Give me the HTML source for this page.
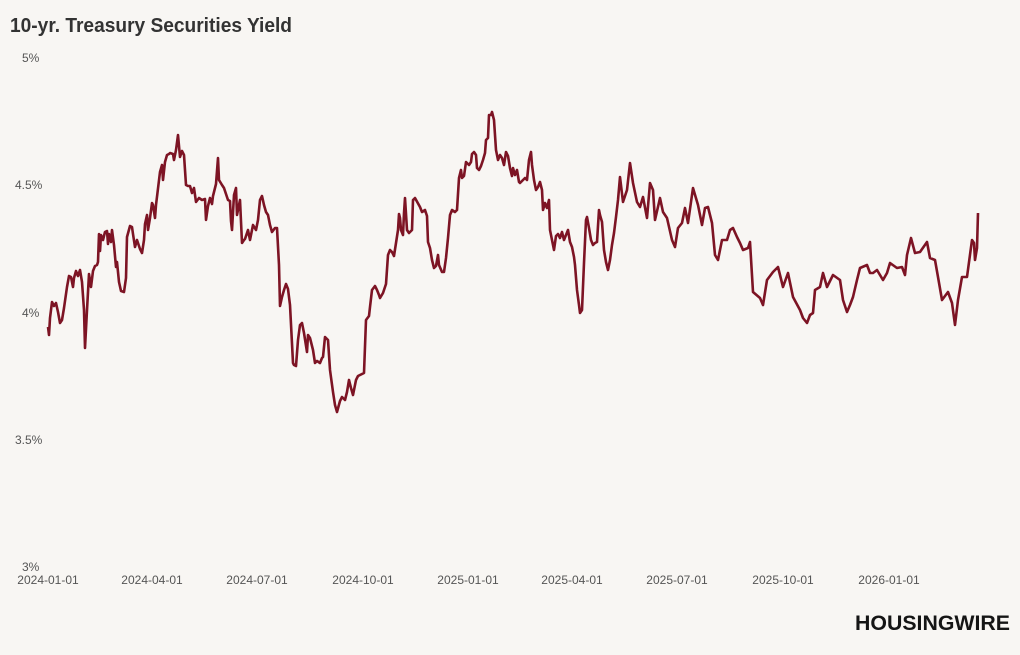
<!DOCTYPE html>
<html><head><meta charset="utf-8"><style>
html,body{margin:0;padding:0;background:#f8f6f3;}
body{width:1020px;height:650px;overflow:hidden;position:relative;font-family:"Liberation Sans",sans-serif;}
</style></head><body>
<svg width="1020" height="650" viewBox="0 0 1020 650" xmlns="http://www.w3.org/2000/svg">
<rect width="1020" height="650" fill="#f8f6f3"/>
<text x="10" y="32" font-family="Liberation Sans" font-weight="bold" font-size="20" fill="#333" textLength="282" lengthAdjust="spacingAndGlyphs">10-yr. Treasury Securities Yield</text>
<g font-family="Liberation Sans" font-size="12" fill="#555">
<text x="22" y="62">5%</text>
<text x="15" y="189">4.5%</text>
<text x="22" y="317">4%</text>
<text x="15" y="444">3.5%</text>
<text x="22" y="571">3%</text>
</g>
<g font-family="Liberation Sans" font-size="12" fill="#555" text-anchor="middle">
<text x="48" y="584">2024-01-01</text>
<text x="152" y="584">2024-04-01</text>
<text x="257" y="584">2024-07-01</text>
<text x="363" y="584">2024-10-01</text>
<text x="468" y="584">2025-01-01</text>
<text x="572" y="584">2025-04-01</text>
<text x="677" y="584">2025-07-01</text>
<text x="783" y="584">2025-10-01</text>
<text x="889" y="584">2026-01-01</text>
</g>
<polyline fill="none" stroke="#7d1424" stroke-width="2.6" stroke-linejoin="round" points="48,327 49,335 50,318 52,302 54,306 56,303 58,312 60,323 62,320 64,308 67,287 69,276 71,277 73,287 74,278 76,271 78,276 80,270 82,282 84,310 85,348 87,310 89,274 91,287 93,271 95,266 97,265 98,262 99,234 100,251 101,235 103,240 105,232 107,231 108,244 109,234 111,242 112,230 114,245 116,267 117,262 119,282 121,291 124,292 126,278 127,237 130,226 132,227 133,234 135,247 137,240 140,249 142,253 144,240 145,224 147,215 148,230 150,218 152,203 153,205 155,218 156,205 160,172 162,165 163,180 165,162 167,155 169,154 170,153 173,154 174,160 176,150 178,135 180,157 182,151 184,155 186,185 188,186 190,186 192,193 194,188 196,202 199,198 202,200 205,199 206,220 208,206 210,198 212,204 213,196 216,184 218,158 219,180 222,185 224,188 228,200 230,201 231,221 232,230 234,195 236,188 237,215 240,200 242,243 244,240 245,239 248,230 250,240 252,230 253,225 256,230 258,220 260,200 262,196 264,205 266,212 268,215 270,225 272,232 275,228 277,228 279,265 280,306 282,297 284,290 286,284 288,289 290,305 293,363 294,365 296,366 298,340 300,325 302,323 304,333 307,352 308,335 310,338 313,350 315,363 317,361 320,363 322,358 323,357 325,337 328,340 330,370 333,392 335,405 337,412 340,401 342,397 345,400 347,392 349,380 351,388 353,395 356,380 358,376 360,375 362,374 364,373 366,320 369,316 370,307 372,290 375,286 377,290 379,295 380,298 383,293 386,284 388,255 390,250 392,252 394,256 396,243 398,230 399,214 400,218 401,230 403,235 404,213 405,198 407,230 409,233 412,230 413,200 415,198 420,207 422,212 425,210 427,216 428,242 430,248 432,260 434,268 436,266 438,255 439,265 442,272 444,272 446,258 448,238 450,215 452,210 455,212 457,210 459,178 461,170 462,178 464,176 466,162 469,165 471,162 472,154 474,152 476,155 477,168 479,170 481,166 483,160 485,153 486,140 488,138 489,115 491,115 492,112 494,120 496,150 498,160 500,155 502,158 504,165 506,152 508,156 510,168 512,176 513,168 515,175 517,170 519,182 520,183 523,180 525,178 527,180 529,160 531,152 532,165 534,180 536,190 538,187 540,182 542,190 543,210 545,203 547,208 549,200 550,230 552,240 554,250 556,236 558,234 560,238 562,232 564,240 566,235 568,230 570,242 572,247 574,257 575,265 577,290 579,305 580,313 582,310 584,263 586,220 587,217 589,228 591,240 593,245 595,243 597,242 599,210 600,215 602,222 604,250 606,262 608,270 610,260 612,245 614,233 616,217 618,200 620,177 623,202 627,190 630,163 633,183 637,202 640,207 643,197 647,218 650,183 653,190 655,220 660,198 663,212 667,218 672,240 675,247 678,228 682,223 685,208 688,223 693,188 698,205 702,225 705,208 708,207 712,223 715,255 718,260 722,240 727,240 730,230 733,228 737,237 740,243 743,250 748,248 750,242 753,292 760,298 763,305 767,280 773,272 778,267 783,287 788,273 793,297 800,310 803,318 807,323 810,315 813,313 815,290 820,287 823,273 827,287 833,275 840,280 843,300 847,312 850,305 853,297 857,280 860,268 867,265 870,273 873,273 877,270 883,280 887,273 890,263 897,268 902,267 905,275 907,255 911,238 915,253 920,252 927,242 930,258 935,260 938,277 942,300 948,292 952,303 955,325 958,300 962,277 967,277 972,240 974,243 975,260 977,248 978,213"/>
<text x="1010" y="630" text-anchor="end" font-family="Liberation Sans" font-weight="bold" font-size="21" fill="#151515" textLength="155" lengthAdjust="spacingAndGlyphs">HOUSINGWIRE</text>
</svg>
</body></html>
